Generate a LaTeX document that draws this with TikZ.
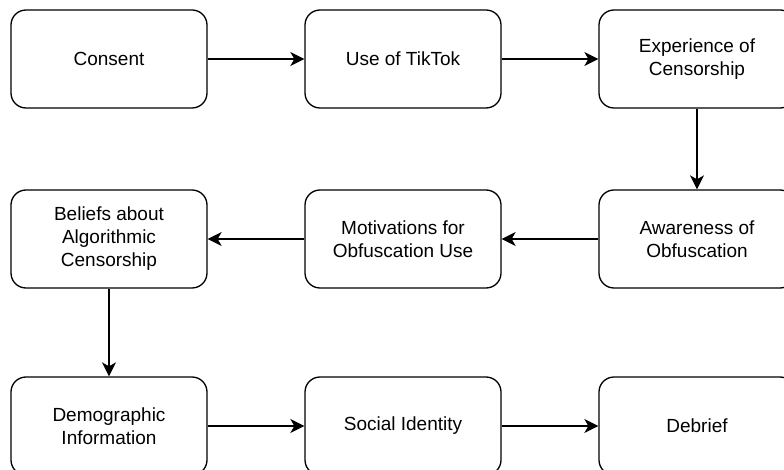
\documentclass[tikz,border=0pt]{standalone}
\usepackage{fontspec}
\setmainfont{Liberation Sans}
\usetikzlibrary{arrows.meta}
\begin{document}
\begin{tikzpicture}[x=1pt,y=-1pt,
  box/.style={draw=black, line width=1.3pt, rounded corners=15pt, minimum width=196pt, minimum height=98pt, inner sep=0pt, align=center, font=\fontsize{19pt}{23pt}\selectfont},
  conn/.style={line width=1.3pt, -{Stealth[length=14pt,width=14pt,inset=4pt]}}]
\useasboundingbox (0,0) rectangle (784,470);
\clip (0,0) rectangle (784,470);
\fill[white] (0,0) rectangle (784,470);
\node[box] (consent) at (109,59) {Consent};
\node[box] (tiktok) at (403,59) {Use of TikTok};
\node[box] (exp) at (697,59) {Experience of\\Censorship};
\node[box] (aware) at (697,239) {Awareness of\\Obfuscation};
\node[box] (motiv) at (403,239) {Motivations for\\Obfuscation Use};
\node[box] (belief) at (109,239) {Beliefs about\\Algorithmic\\Censorship};
\node[box] (demo) at (109,426) {Demographic\\Information};
\node[box] (social) at (403,426) {Social Identity};
\node[box] (debrief) at (697,426) {Debrief};
\draw[conn] (consent) -- (tiktok);
\draw[conn] (tiktok) -- (exp);
\draw[conn] (exp) -- (aware);
\draw[conn] (aware) -- (motiv);
\draw[conn] (motiv) -- (belief);
\draw[conn] (belief) -- (demo);
\draw[conn] (demo) -- (social);
\draw[conn] (social) -- (debrief);
\end{tikzpicture}
\end{document}
